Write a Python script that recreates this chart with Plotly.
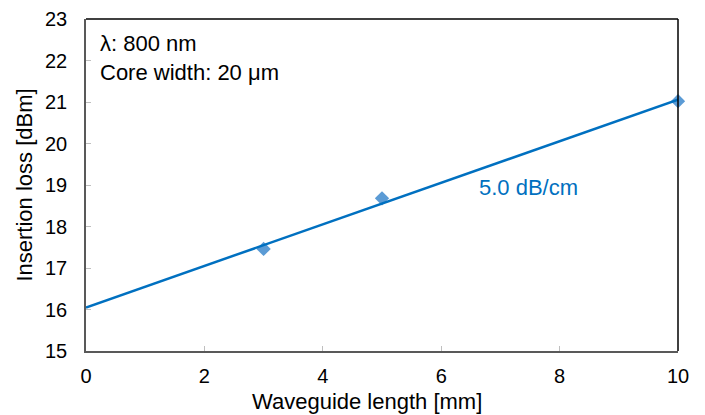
import numpy as np
import plotly.graph_objects as go

# Data
lengths_mm = [3, 5, 10]
loss_dbm = [17.46, 18.68, 21.02]
x_ticks = [0, 2, 4, 6, 8, 10]
y_ticks = [15, 16, 17, 18, 19, 20, 21, 22, 23]

slope, intercept = np.polyfit(lengths_mm, loss_dbm, 1)
fit_x = np.array([0, 10])
fit_y = slope * fit_x + intercept

font = "Liberation Sans, Arial, sans-serif"

fig = go.Figure()
fig.add_trace(go.Scatter(
    x=lengths_mm, y=loss_dbm, mode="markers",
    marker=dict(symbol="diamond", size=11, color="#5B9BD5"),
    showlegend=False, cliponaxis=False,
))
fig.add_trace(go.Scatter(
    x=fit_x, y=fit_y, mode="lines",
    line=dict(color="#0070C0", width=2.5),
    showlegend=False,
))

# page body has an 8px default margin, so the figure is sized/offset to compensate
fig.update_layout(
    width=697, height=407,
    margin=dict(l=78, r=27, t=11, b=64),
    plot_bgcolor="white", paper_bgcolor="white",
    font=dict(family=font, size=20, color="#000000"),
    xaxis=dict(
        range=[0, 10], tickvals=x_ticks, ticks="inside", ticklen=5,
        tickcolor="#BFBFBF", showline=True, linecolor="#595959", linewidth=1.5,
        showgrid=False, zeroline=False, ticklabelstandoff=6, automargin=False,
        tickfont=dict(size=20),
    ),
    yaxis=dict(
        range=[15, 23], tickvals=y_ticks, ticks="inside", ticklen=5,
        tickcolor="#BFBFBF", showline=True, linecolor="#595959", linewidth=1.5,
        showgrid=False, zeroline=False, ticklabelstandoff=13, automargin=False,
        title=dict(text="Insertion loss [dBm]", standoff=6, font=dict(size=22)),
        tickfont=dict(size=20),
    ),
    shapes=[
        dict(type="line", xref="paper", yref="paper", x0=0, x1=1, y0=1, y1=1,
             line=dict(color="#000000", width=1.5)),
        dict(type="line", xref="paper", yref="paper", x0=1, x1=1, y0=0, y1=1,
             line=dict(color="#000000", width=1.5)),
    ],
    annotations=[
        dict(xref="paper", yref="paper", x=0.475, y=-0.152, xanchor="center", yanchor="middle",
             text="Waveguide length [mm]", showarrow=False, font=dict(size=22)),
        dict(xref="paper", yref="paper", x=0.02, y=0.927, xanchor="left", yanchor="middle",
             text="λ: 800 nm", showarrow=False, font=dict(size=22)),
        dict(xref="paper", yref="paper", x=0.02, y=0.84, xanchor="left", yanchor="middle",
             text="Core width: 20 μm", showarrow=False, font=dict(size=22)),
        dict(x=7.48, y=18.95, xref="x", yref="y", text="5.0 dB/cm", showarrow=False,
             font=dict(size=22, color="#0070C0")),
    ],
)

fig.write_html("out.html")
